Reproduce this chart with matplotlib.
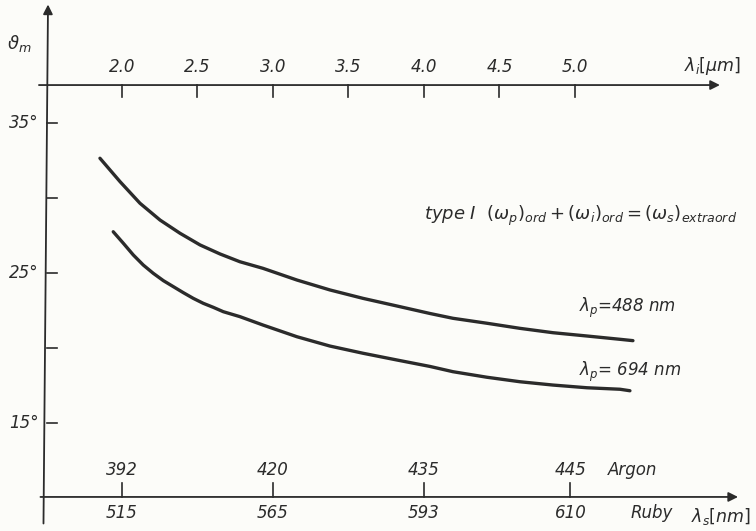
import matplotlib.pyplot as plt

plt.rcParams['mathtext.fontset'] = 'dejavusans'
plt.rcParams['mathtext.default'] = 'it'

# idler wavelength lambda_i [um] read along the top axis, angle theta_m [deg]
li_488 = [1.854, 1.987, 2.119, 2.252, 2.384, 2.517, 2.649, 2.781, 2.934, 3.159, 3.377,
          3.596, 3.821, 4.040, 4.192, 4.417, 4.636, 4.854, 5.079, 5.298, 5.384]
th_488 = [32.65, 31.09, 29.65, 28.53, 27.65, 26.87, 26.27, 25.75, 25.31, 24.53, 23.87,
          23.31, 22.80, 22.30, 21.98, 21.65, 21.31, 21.02, 20.80, 20.58, 20.49]
li_694 = [1.942, 2.009, 2.075, 2.141, 2.207, 2.274, 2.340, 2.406, 2.472, 2.538, 2.605,
          2.671, 2.781, 2.934, 3.159, 3.377, 3.596, 3.821, 4.040, 4.192, 4.417, 4.636,
          4.854, 5.079, 5.298, 5.364]
th_694 = [27.75, 26.98, 26.20, 25.53, 24.98, 24.49, 24.09, 23.69, 23.31, 22.98, 22.71,
          22.42, 22.09, 21.53, 20.75, 20.13, 19.65, 19.20, 18.77, 18.42, 18.05, 17.75,
          17.53, 17.35, 17.25, 17.15]

top_ticks = [2.0, 2.5, 3.0, 3.5, 4.0, 4.5, 5.0]
y_ticks = [35, 30, 25, 20, 15]
y_labels = {35: '35°', 25: '25°', 15: '15°'}

# signal wavelengths lambda_s [nm] on the bottom axis
bottom_pos = [2.0, 3.0, 4.0, 4.97]
argon = ['392', '420', '435', '445']
ruby = ['515', '565', '593', '610']

ink = '#2b2b2b'
paper = '#fcfcf9'

fig = plt.figure(figsize=(7.56, 5.31), dpi=100, facecolor=paper)
ax = fig.add_axes([0, 0, 1, 1])
ax.set_facecolor(paper)
ax.set_xlim(1.192, 6.199)
ax.set_ylim(7.8, 43.2)
ax.axis('off')

arrow = dict(arrowstyle='-|>', lw=1.3, color=ink, mutation_scale=14, shrinkA=0, shrinkB=0)
txt = dict(color=ink, style='italic', fontfamily='DejaVu Sans')

# vertical axis
ax.annotate('', xy=(1.51, 42.9), xytext=(1.48, 8.3), arrowprops=arrow)
ax.text(1.32, 40.3, r'$\vartheta_m$', fontsize=13, ha='center', va='center', color=ink)
for t in y_ticks:
    ax.plot([1.50, 1.57], [t, t], color=ink, lw=1.2)
    if t in y_labels:
        ax.text(1.45, t, y_labels[t], fontsize=12, ha='right', va='center', **txt)

# top axis (idler)
top_y = 37.53
ax.annotate('', xy=(5.96, top_y), xytext=(1.45, top_y), arrowprops=arrow)
for t in top_ticks:
    ax.plot([t, t], [top_y, top_y - 0.8], color=ink, lw=1.2)
    ax.text(t, top_y + 0.6, f'{t:.1f}', fontsize=12, ha='center', va='bottom', **txt)
ax.text(5.72, top_y + 1.3, r'$\lambda_i[\mu m]$', fontsize=12.5, ha='left', va='center', color=ink)

# bottom axis (signal)
bot_y = 10.07
ax.annotate('', xy=(6.08, bot_y), xytext=(1.46, bot_y), arrowprops=arrow)
for p, a, r in zip(bottom_pos, argon, ruby):
    ax.plot([p, p], [bot_y, bot_y + 0.9], color=ink, lw=1.2)
    ax.text(p, bot_y + 1.2, a, fontsize=12, ha='center', va='bottom', **txt)
    ax.text(p, bot_y - 0.5, r, fontsize=12, ha='center', va='top', **txt)
ax.text(5.22, bot_y + 1.2, 'Argon', fontsize=12, ha='left', va='bottom', **txt)
ax.text(5.37, bot_y - 0.5, 'Ruby', fontsize=12, ha='left', va='top', **txt)
ax.text(5.77, bot_y - 1.3, r'$\lambda_s[nm]$', fontsize=12.5, ha='left', va='center', color=ink)

# curves
ax.plot(li_488, th_488, color=ink, lw=2.4, solid_capstyle='round', solid_joinstyle='round')
ax.plot(li_694, th_694, color=ink, lw=2.4, solid_capstyle='round', solid_joinstyle='round')
ax.text(5.03, 22.67, r'$\lambda_p$=488 nm', fontsize=12, ha='left', va='center', **txt)
ax.text(5.03, 18.4, r'$\lambda_p$= 694 nm', fontsize=12, ha='left', va='center', **txt)

ax.text(4.00, 28.8, r'type I  $(\omega_p)_{ord} + (\omega_i)_{ord} = (\omega_s)_{extraord}$',
        fontsize=13, ha='left', va='center', **txt)

fig.savefig('out.png', dpi=100, facecolor=paper)
